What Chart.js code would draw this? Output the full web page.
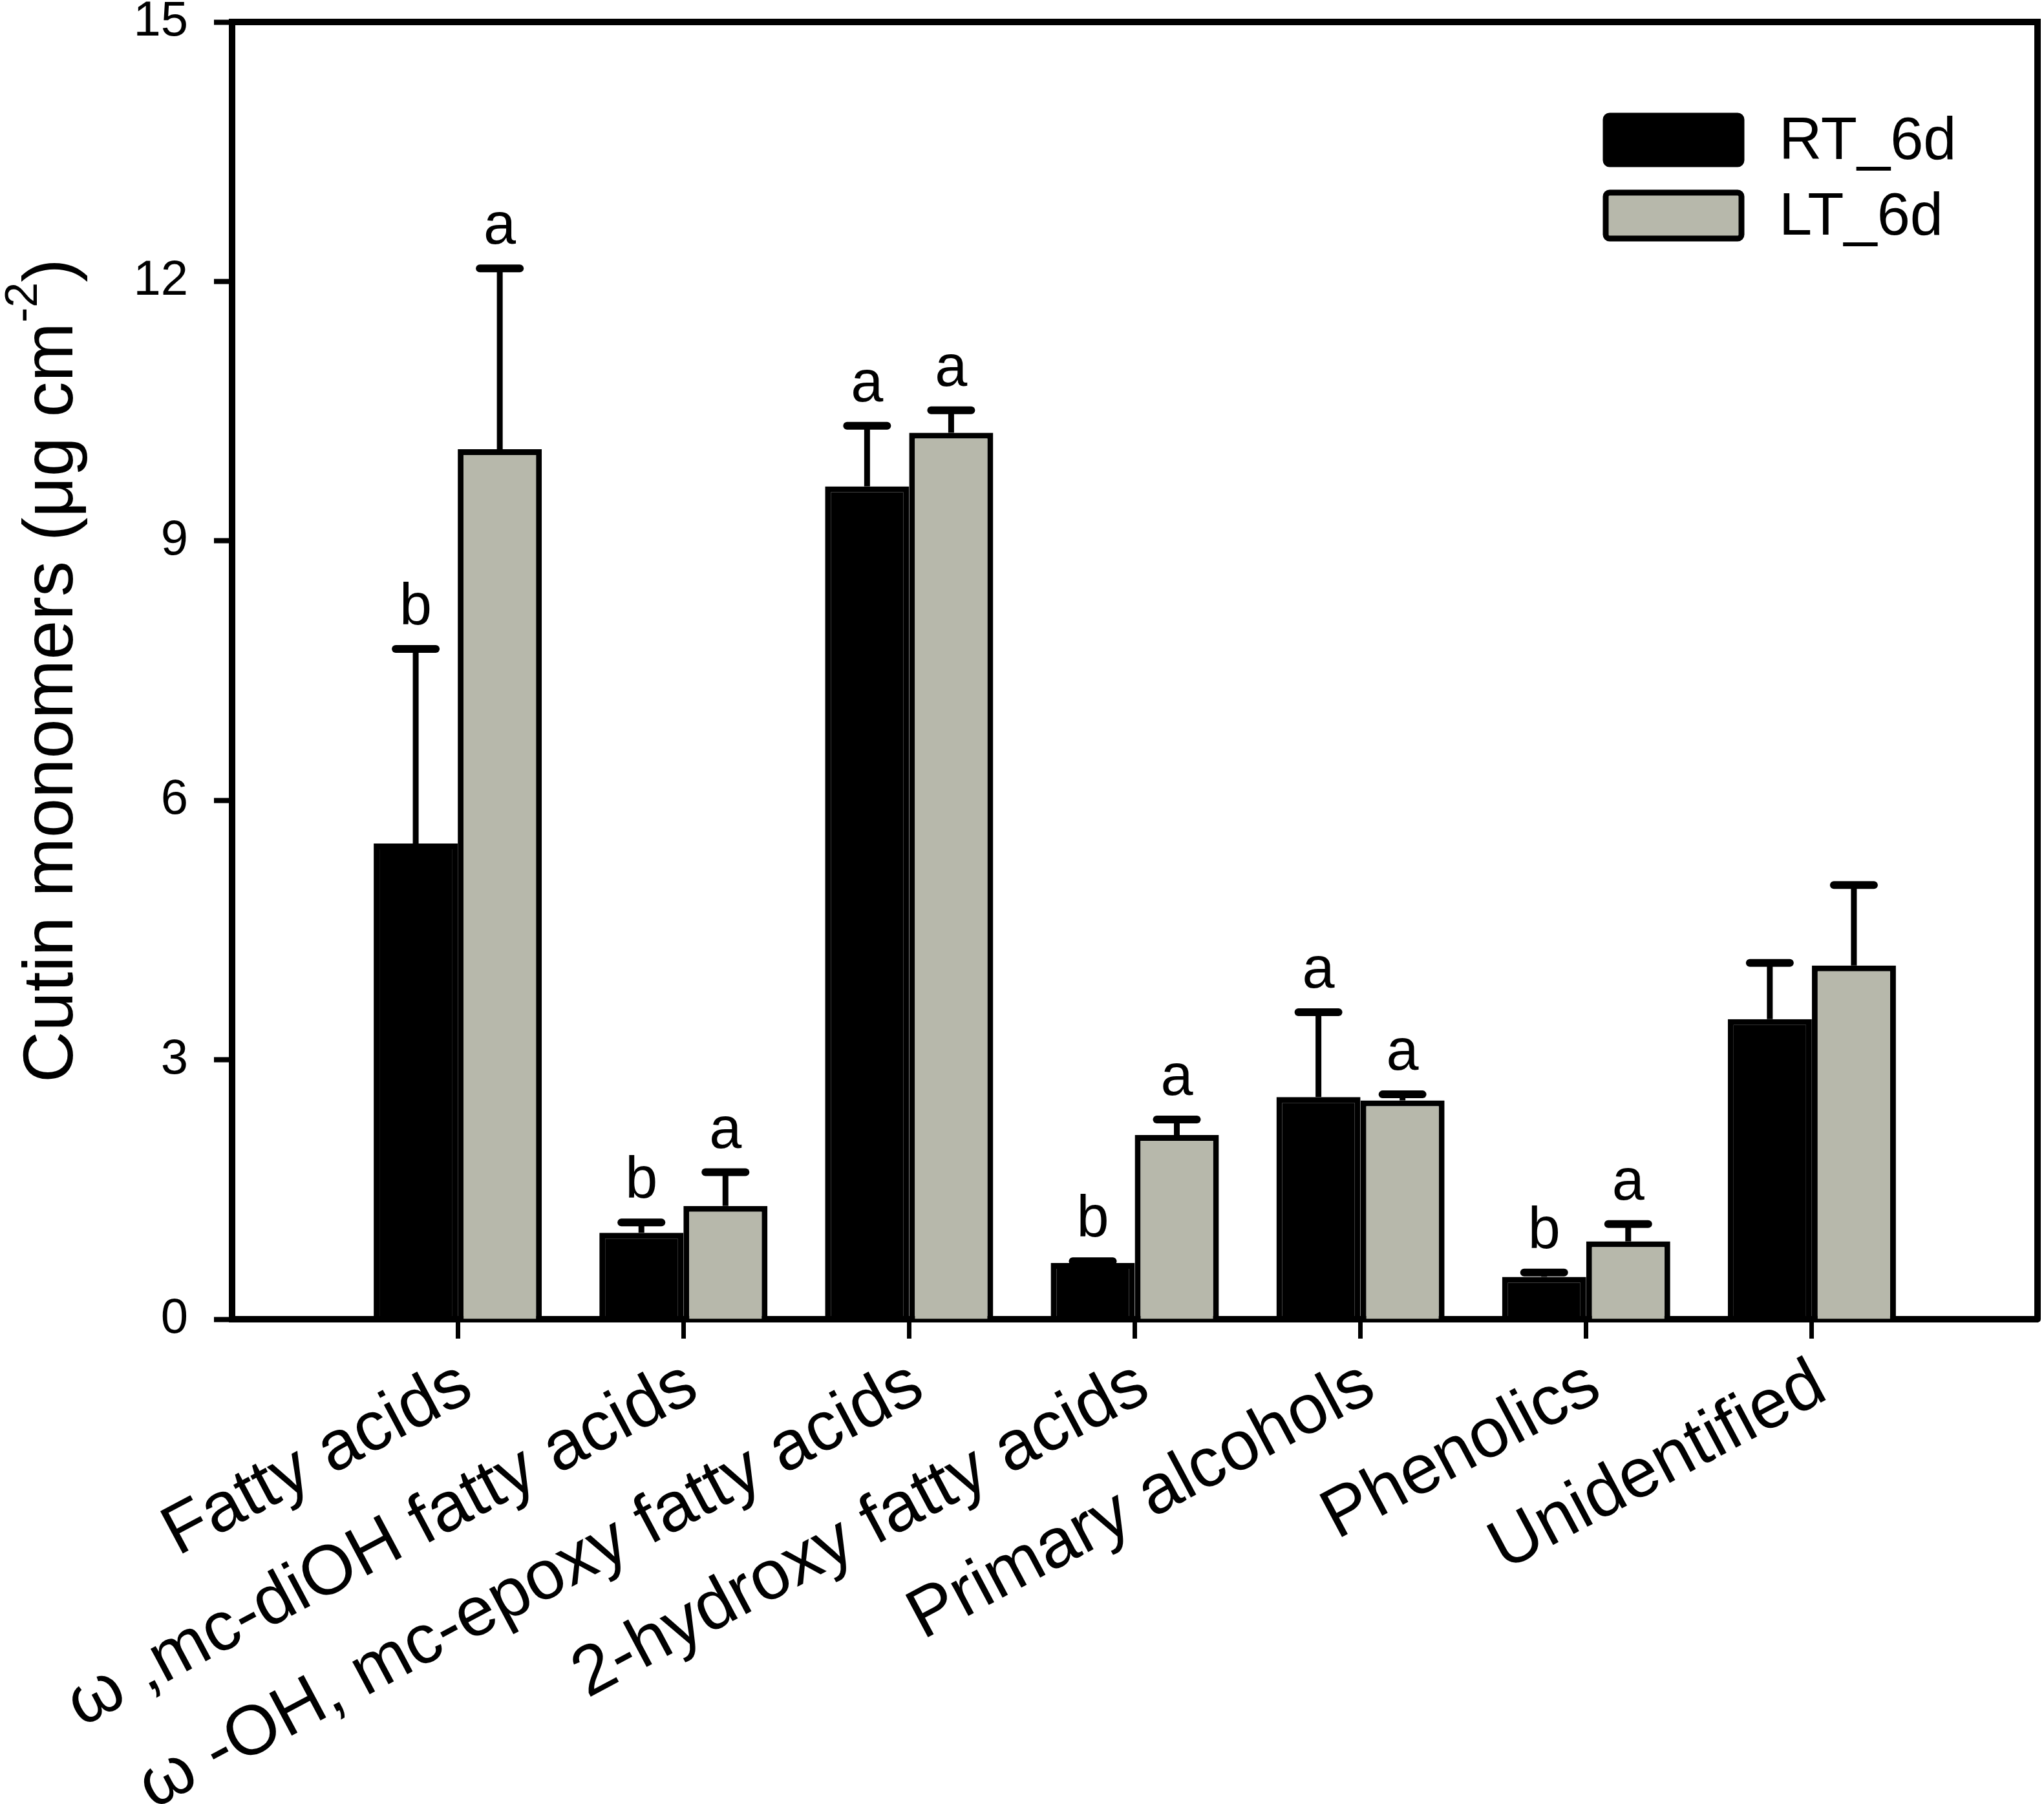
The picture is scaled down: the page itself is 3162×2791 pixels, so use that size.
<!DOCTYPE html>
<html>
<head>
<meta charset="utf-8">
<script src="https://cdn.jsdelivr.net/npm/chart.js@4.4.1/dist/chart.umd.min.js"></script>
<style>
  html, body { margin: 0; padding: 0; background: #fff; }
  canvas { display: block; }
</style>
</head>
<body>
<canvas id="cutinChart" width="3162" height="2791"></canvas>
<script>
const categories = ['Fatty acids', 'ω ,mc-diOH fatty acids', 'ω -OH, mc-epoxy fatty acids',
  '2-hydroxy fatty acids', 'Primary alcohols', 'Phenolics', 'Unidentified'];
const rtValues = [5.50, 1.00, 9.63, 0.65, 2.57, 0.49, 3.47];
const rtErrors = [2.25, 0.12, 0.70, 0.02, 0.98, 0.05, 0.65];
const ltValues = [10.06, 1.31, 10.25, 2.13, 2.53, 0.90, 4.09];
const ltErrors = [2.09, 0.39, 0.26, 0.18, 0.07, 0.20, 0.93];
const rtLetters = ['b', 'b', 'a', 'b', 'a', 'b', ''];
const ltLetters = ['a', 'a', 'a', 'a', 'a', 'a', ''];
const yTicks = [0, 3, 6, 9, 12, 15];

const FONT = '"Liberation Sans", Arial, sans-serif';
const GREY = '#b7b8ab';

// empty slots at both ends so categories sit at 1..7 of 8 divisions
const pad = arr => [null, ...arr, null];
const xLabels = ['', ...categories, ''];

const errorBars = {
  id: 'errorBars',
  afterDatasetsDraw(chart) {
    const ctx = chart.ctx;
    const y = chart.scales.y;
    const errs = [rtErrors, ltErrors];
    const letters = [rtLetters, ltLetters];
    ctx.save();
    ctx.strokeStyle = '#000';
    ctx.fillStyle = '#000';
    chart.data.datasets.forEach((ds, di) => {
      const meta = chart.getDatasetMeta(di);
      meta.data.forEach((bar, j) => {
        const v = ds.data[j];
        if (v === null) return;
        const k = j - 1;
        const top = y.getPixelForValue(v + errs[di][k]);
        ctx.lineWidth = 9;
        ctx.lineCap = 'butt';
        ctx.beginPath();
        ctx.moveTo(bar.x, bar.y);
        ctx.lineTo(bar.x, top);
        ctx.stroke();
        ctx.lineWidth = 12;
        ctx.lineCap = 'round';
        ctx.beginPath();
        ctx.moveTo(bar.x - 31, top);
        ctx.lineTo(bar.x + 31, top);
        ctx.stroke();
        if (letters[di][k]) {
          ctx.font = '90px ' + FONT;
          ctx.textAlign = 'center';
          ctx.textBaseline = 'alphabetic';
          ctx.fillText(letters[di][k], bar.x, top - 38);
        }
      });
    });
    ctx.restore();
  }
};

const frame = {
  id: 'frame',
  afterDraw(chart) {
    const { ctx, chartArea: a } = chart;
    ctx.save();
    ctx.strokeStyle = '#000';
    ctx.lineWidth = 10;
    ctx.lineCap = 'round';
    ctx.beginPath();
    ctx.moveTo(a.left, a.top);
    ctx.lineTo(a.right, a.top);
    ctx.lineTo(a.right, a.bottom);
    ctx.stroke();

    // y title with superscript
    const cy = (a.top + a.bottom) / 2;
    ctx.translate(112, cy);
    ctx.rotate(-Math.PI / 2);
    ctx.fillStyle = '#000';
    ctx.textBaseline = 'alphabetic';
    ctx.textAlign = 'left';
    const main = 'Cutin monomers (μg cm';
    const sup = '-2';
    const close = ')';
    ctx.font = '110px ' + FONT;
    const wMain = ctx.measureText(main).width;
    const wClose = ctx.measureText(close).width;
    ctx.font = '70px ' + FONT;
    const wSup = ctx.measureText(sup).width;
    let x = -(wMain + wSup + wClose) / 2;
    ctx.font = '110px ' + FONT;
    ctx.fillText(main, x, 0);
    x += wMain;
    ctx.font = '70px ' + FONT;
    ctx.fillText(sup, x, -55);
    x += wSup;
    ctx.font = '110px ' + FONT;
    ctx.fillText(close, x, 0);
    ctx.restore();

    // legend
    ctx.save();
    const items = chart.data.datasets;
    const boxes = [[175, 258], [294, 373]];
    items.forEach((ds, i) => {
      const [t, b] = boxes[i];
      ctx.beginPath();
      ctx.roundRect(2484, t + 4, 210, b - t - 8, 6);
      ctx.fillStyle = ds.backgroundColor;
      ctx.fill();
      ctx.lineWidth = 9;
      ctx.strokeStyle = '#000';
      ctx.stroke();
      ctx.fillStyle = '#000';
      ctx.font = '92px ' + FONT;
      ctx.textAlign = 'left';
      ctx.textBaseline = 'middle';
      ctx.fillText(ds.label, 2752, (t + b) / 2 + 4);
    });
    ctx.restore();
  }
};

new Chart(document.getElementById('cutinChart'), {
  type: 'bar',
  data: {
    labels: xLabels,
    datasets: [
      {
        label: 'RT_6d',
        data: pad(rtValues),
        backgroundColor: '#000',
        borderColor: '#000',
        borderWidth: 9,
        borderSkipped: 'bottom'
      },
      {
        label: 'LT_6d',
        data: pad(ltValues),
        backgroundColor: GREY,
        borderColor: '#000',
        borderWidth: 9,
        borderSkipped: 'bottom'
      }
    ]
  },
  options: {
    responsive: false,
    animation: false,
    devicePixelRatio: 1,
    categoryPercentage: 0.745,
    barPercentage: 1.0,
    layout: { padding: { top: 34, right: 10, left: 0, bottom: 0 } },
    plugins: {
      legend: { display: false },
      tooltip: { enabled: false }
    },
    scales: {
      x: {
        type: 'category',
        offset: false,
        afterFit(scale) {
          scale.height = 750;
          scale.paddingLeft = 0;
          scale.paddingRight = 0;
        },
        grid: {
          offset: false,
          drawOnChartArea: false,
          tickLength: 30,
          tickWidth: 7,
          color: c => (c.index === 0 || c.index === xLabels.length - 1) ? 'rgba(0,0,0,0)' : '#000'
        },
        border: { display: true, color: '#000', width: 10 },
        ticks: {
          autoSkip: false,
          minRotation: 28,
          maxRotation: 28,
          padding: 8,
          labelOffset: 14,
          color: '#000',
          font: { family: FONT, size: 108 }
        }
      },
      y: {
        min: 0,
        max: 15,
        afterFit(scale) {
          scale.width = 359;
          scale.paddingTop = 0;
          scale.paddingBottom = 0;
        },
        afterBuildTicks(scale) { scale.ticks = yTicks.map(v => ({ value: v })); },
        grid: {
          drawOnChartArea: false,
          tickLength: 28,
          tickWidth: 8,
          color: '#000'
        },
        border: { display: true, color: '#000', width: 10 },
        ticks: {
          padding: 40,
          color: '#000',
          font: { family: FONT, size: 76, lineHeight: 0.8 }
        }
      }
    }
  },
  plugins: [errorBars, frame]
});
</script>
</body>
</html>
